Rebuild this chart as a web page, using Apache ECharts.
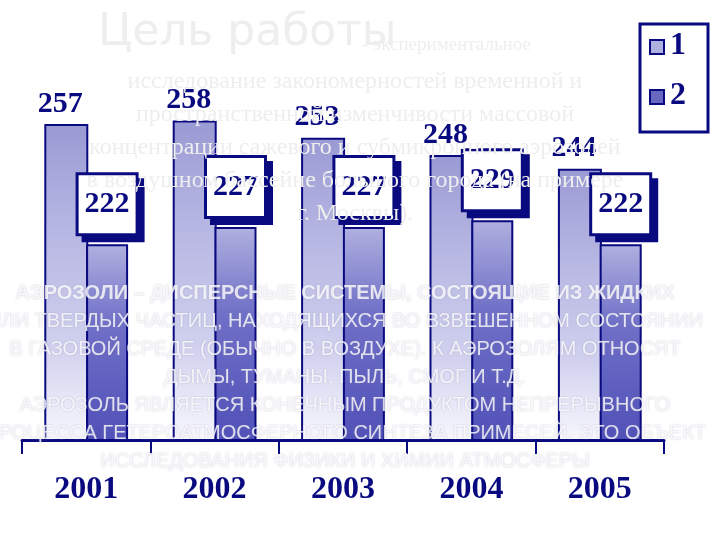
<!DOCTYPE html><html><head><meta charset="utf-8">
<script src="https://cdn.jsdelivr.net/npm/echarts@6/dist/echarts.min.js"></script>
<style>html,body{margin:0;background:#fff}#c{width:720px;height:540px}</style></head><body><div id="c"></div>
<script>
const categories=['2001','2002','2003','2004','2005'];
const series1=[257,258,253,248,244];
const series2=[222,227,227,229,222];
const legendNames=['1','2'];
const titleLines=['исследование закономерностей временной и','пространственной изменчивости массовой','концентрации сажевого и субмикронного аэрозолей','в воздушном бассейне большого города (на примере','г. Москвы).'];
const bodyLines=['АЭРОЗОЛИ – ДИСПЕРСНЫЕ СИСТЕМЫ, СОСТОЯЩИЕ ИЗ ЖИДКИХ','ИЛИ ТВЕРДЫХ ЧАСТИЦ, НАХОДЯЩИХСЯ ВО ВЗВЕШЕННОМ СОСТОЯНИИ','В ГАЗОВОЙ СРЕДЕ (ОБЫЧНО В ВОЗДУХЕ). К АЭРОЗОЛЯМ ОТНОСЯТ','ДЫМЫ, ТУМАНЫ, ПЫЛЬ, СМОГ И Т.Д.','АЭРОЗОЛЬ ЯВЛЯЕТСЯ КОНЕЧНЫМ ПРОДУКТОМ НЕПРЕРЫВНОГО','ПРОЦЕССА ГЕТЕРОАТМОСФЕРНОГО СИНТЕЗА ПРИМЕСЕЙ. ЭТО ОБЪЕКТ','ИССЛЕДОВАНИЯ ФИЗИКИ И ХИМИИ АТМОСФЕРЫ'];
const navy='#0a0a80';
const ch=echarts.init(document.getElementById('c'));
const g1=new echarts.graphic.LinearGradient(0,0,0,1,[{offset:0,color:'#9a9ad4'},{offset:0.3,color:'#b4b4e2'},{offset:0.7,color:'#d0d0ee'},{offset:1,color:'#f8f8fe'}]);
const g2=new echarts.graphic.LinearGradient(0,0,0,1,[{offset:0,color:'#b0b0e0'},{offset:0.4,color:'#7070c8'},{offset:1,color:'#5050b8'}]);
const gfx=[];
const tShadow={textShadowColor:'#666',textShadowBlur:0,textShadowOffsetX:1,textShadowOffsetY:1};
gfx.push({type:'text',left:98,top:12,z:50,style:Object.assign({text:'Цель работы',font:'44px "DejaVu Sans"',fill:'#eeeeee'},tShadow)});
gfx.push({type:'text',left:362,top:36,z:50,style:Object.assign({text:'- экспериментальное',font:'19px "Liberation Serif"',fill:'#eeeeee'},tShadow)});
titleLines.forEach((t,i)=>gfx.push({type:'text',x:355,y:70+i*33,z:50,style:Object.assign({text:t,font:'24px "Liberation Serif"',fill:'#eeeeee',align:'center'},tShadow)}));
bodyLines.forEach((t,i)=>gfx.push({type:'text',x:345,y:283+i*28,z:50,style:{text:t,font:(i==0?'bold ':'')+'20px "Liberation Sans Narrow","Liberation Sans"',fill:'rgba(255,255,255,0.8)',align:'center',textShadowColor:'rgba(120,120,160,0.5)',textShadowBlur:2}}));
gfx.push({type:'rect',shape:{x:640,y:24,width:68,height:108},style:{fill:'#fff',stroke:navy,lineWidth:3},z:40});
legendNames.forEach((n,i)=>{
 gfx.push({type:'rect',shape:{x:650,y:40+i*50,width:14,height:14},style:{fill:i?'#6868c0':'#b0b0e0',stroke:navy,lineWidth:2},z:41});
 gfx.push({type:'text',x:670,y:30+i*50,z:41,style:{text:n,font:'bold 32px "Liberation Serif"',fill:navy}});
});
ch.setOption({animation:false,
 grid:{left:22,right:56,top:45,bottom:100},
 xAxis:{type:'category',data:categories,axisLine:{lineStyle:{color:navy,width:3}},axisTick:{show:true,length:14,lineStyle:{color:navy,width:2}},
  axisLabel:{margin:34,fontSize:32,fontWeight:'bold',fontFamily:'Liberation Sans Narrow',color:navy}},
 yAxis:{type:'value',min:165,max:280,show:false,splitLine:{show:false}},
 series:[
  {type:'bar',data:series1,barWidth:44,barGap:'-5%',itemStyle:{color:g1,borderColor:navy,borderWidth:2},
   label:{show:true,position:'top',offset:[-6,0],fontSize:30,fontWeight:'bold',fontFamily:'Liberation Sans Narrow',color:navy}},
  {type:'bar',data:series2,barWidth:42,itemStyle:{color:g2,borderColor:navy,borderWidth:2},
   label:{show:true,position:'top',offset:[0,-6],fontSize:30,fontWeight:'bold',fontFamily:'Liberation Sans Narrow',color:navy,
    backgroundColor:'#fff',borderColor:navy,borderWidth:3,padding:[14,6,14,6],shadowColor:navy,shadowOffsetX:6,shadowOffsetY:6}}
 ],
 graphic:gfx});
</script></body></html>
